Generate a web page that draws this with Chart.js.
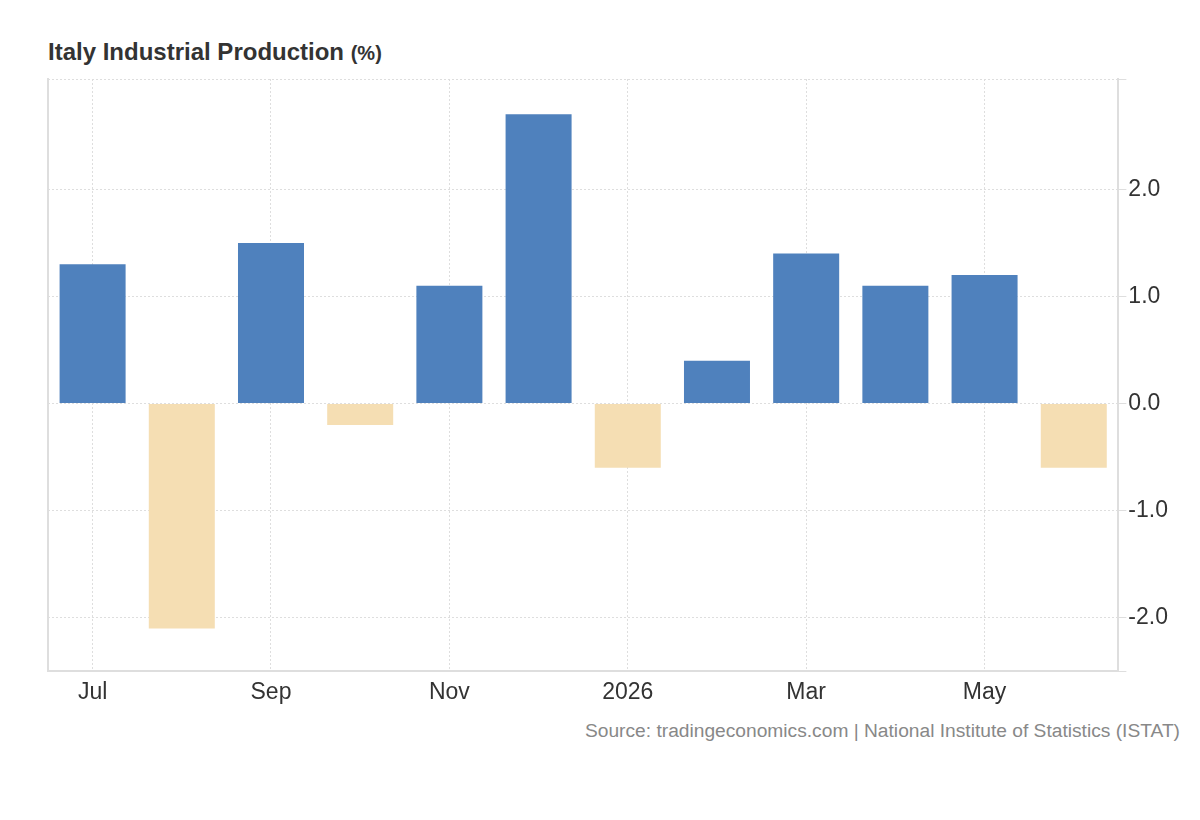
<!DOCTYPE html>
<html>
<head>
<meta charset="utf-8">
<script src="https://cdn.jsdelivr.net/npm/chart.js@4/dist/chart.umd.min.js"></script>
<style>
  body { margin: 0; background: #fff; font-family: "Liberation Sans", Arial, sans-serif; }
  #wrap { position: relative; width: 1200px; height: 820px; }
  #title { position: absolute; left: 48px; top: 38px; font-size: 24px; font-weight: bold; color: #333; }
  #title span { font-size: 20px; }
  #box { position: absolute; left: 0; top: 0; width: 1200px; height: 713px; }
  #source { position: absolute; right: 20px; top: 720px; font-size: 19.2px; color: #888; }
</style>
</head>
<body>
<div id="wrap">
  <div id="title">Italy Industrial Production <span>(%)</span></div>
  <div id="box"><canvas id="chart"></canvas></div>
  <div id="source">Source: tradingeconomics.com | National Institute of Statistics (ISTAT)</div>
</div>
<script>
const months = ['Jul', 'Aug', 'Sep', 'Oct', 'Nov', 'Dec', '2026', 'Feb', 'Mar', 'Apr', 'May', 'Jun']
const production = [1.3, -2.1, 1.5, -0.2, 1.1, 2.7, -0.6, 0.4, 1.4, 1.1, 1.2, -0.6]
const yTicks = [-2.5, -2, -1, 0, 1, 2]
const yMin = -2.5
const yMax = 3.03

const gridColor = '#dedede'
const barColors = production.map(v => v >= 0 ? '#4f81bd' : '#f5deb3')
const labelFont = { family: '"Liberation Sans", Arial, sans-serif', size: 23 }

new Chart(document.getElementById('chart'), {
    type: 'bar',
    data: {
        labels: months,
        datasets: [{
            data: production,
            backgroundColor: barColors,
            barPercentage: 0.74,
            categoryPercentage: 1.0
        }]
    },
    options: {
        responsive: true,
        maintainAspectRatio: false,
        animation: false,
        layout: { padding: { left: 40, top: 79, right: 30, bottom: 0 } },
        plugins: { legend: { display: false }, tooltip: { enabled: false } },
        scales: {
            x: {
                offset: true,
                grid: {
                    offset: false,
                    drawTicks: false,
                    color: ctx => ctx.index % 2 === 0 ? gridColor : 'rgba(0,0,0,0)'
                },
                border: { display: true, color: gridColor, width: 2, dash: [2, 2] },
                ticks: {
                    autoSkip: false,
                    maxRotation: 0,
                    padding: 7,
                    color: '#333',
                    font: labelFont,
                    callback: (v, i) => i % 2 === 0 ? months[i] : ''
                }
            },
            y: {
                position: 'right',
                min: yMin,
                max: yMax,
                afterBuildTicks: axis => {
                    axis.ticks = yTicks.concat([yMax]).map(v => ({ value: v }))
                },
                grid: {
                    color: gridColor,
                    tickColor: gridColor,
                    tickLength: 8,
                    tickBorderDash: []
                },
                border: { display: true, color: gridColor, width: 2, dash: [2, 2] },
                ticks: {
                    padding: 2,
                    color: '#333',
                    font: labelFont,
                    callback: v => (v === yMin || v === yMax) ? '' : v.toFixed(1)
                }
            },
            yl: {
                position: 'left',
                min: yMin,
                max: yMax,
                grid: { display: false },
                ticks: { display: false },
                border: { display: true, color: gridColor, width: 2 }
            }
        }
    }
})
</script>
</body>
</html>
